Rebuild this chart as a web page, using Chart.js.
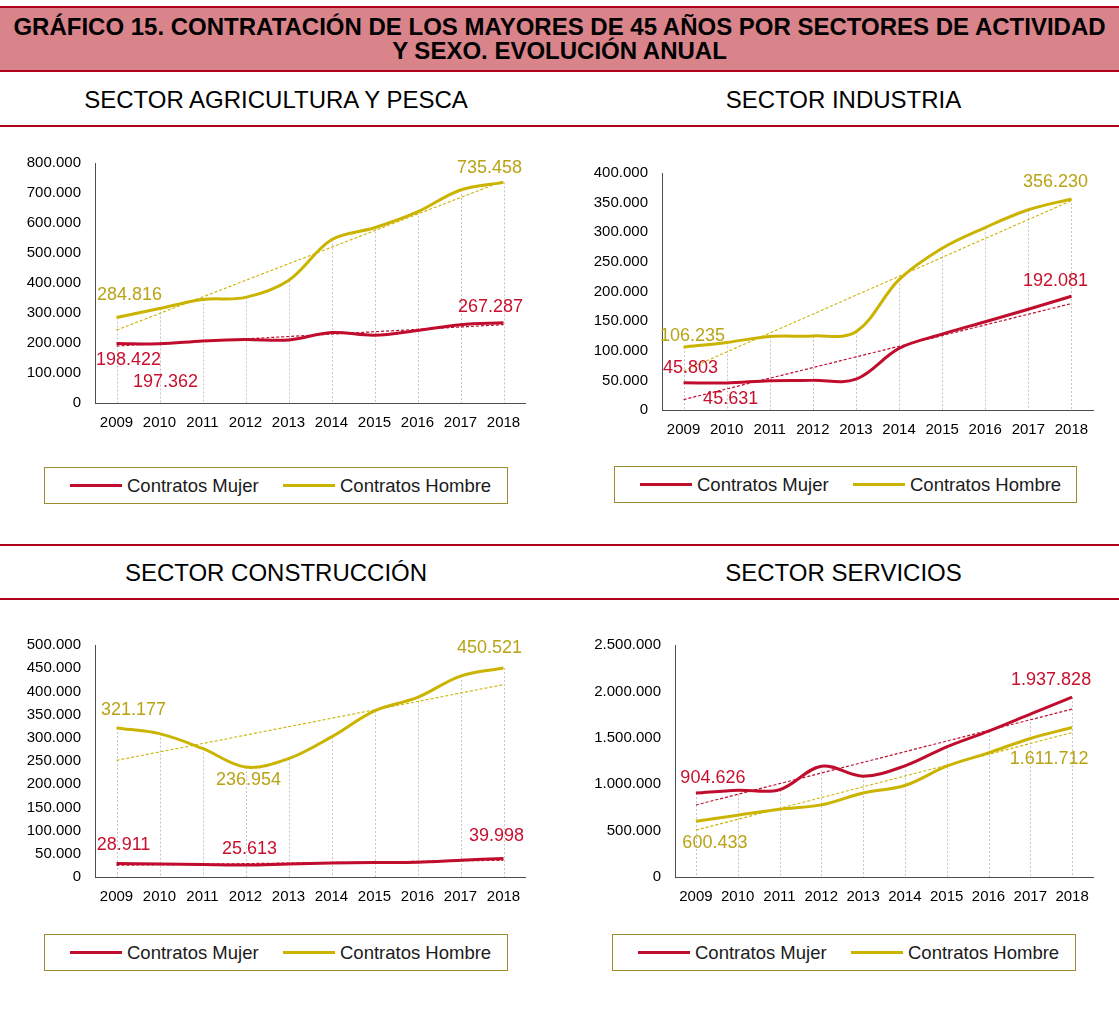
<!DOCTYPE html>
<html><head><meta charset="utf-8">
<script src="https://cdn.jsdelivr.net/npm/chart.js@4.4.1/dist/chart.umd.min.js"></script>
<style>
html,body{margin:0;padding:0;background:#fff;}
body{width:1119px;height:1010px;position:relative;overflow:hidden;font-family:'Liberation Sans',Arial,sans-serif;}
#title{position:absolute;left:0;top:6px;width:1119px;height:62px;background:#d9838b;border-top:2px solid #b3001b;border-bottom:2px solid #b3001b;display:flex;align-items:center;justify-content:center;text-align:center;font-weight:bold;font-size:24px;line-height:24px;color:#000;white-space:nowrap;}
.hline{position:absolute;left:0;width:1119px;height:2px;background:#b3001b;}
.sec{position:absolute;font-size:24px;color:#000;text-align:center;line-height:28px;white-space:nowrap;}
canvas{position:absolute;}
.leg{position:absolute;border:1px solid #a08c30;box-sizing:border-box;background:#fff;}
.li{position:absolute;top:0;height:100%;display:flex;align-items:center;font-size:18.5px;color:#1a1a1a;white-space:nowrap;}
.sw{display:inline-block;width:52px;height:3px;margin-right:5px;}
</style></head>
<body>
<div id="title"><div>GRÁFICO 15. CONTRATACIÓN DE LOS MAYORES DE 45 AÑOS POR SECTORES DE ACTIVIDAD<br>Y SEXO. EVOLUCIÓN ANUAL</div></div>
<div class="sec" style="left:0;width:552px;top:86px;">SECTOR AGRICULTURA Y PESCA</div>
<div class="sec" style="left:566px;width:555px;top:86px;">SECTOR INDUSTRIA</div>
<div class="hline" style="top:125px;"></div>
<div class="hline" style="top:544px;"></div>
<div class="sec" style="left:0;width:552px;top:559px;">SECTOR CONSTRUCCIÓN</div>
<div class="sec" style="left:566px;width:555px;top:559px;">SECTOR SERVICIOS</div>
<div class="hline" style="top:598px;"></div>

<canvas id="c1" width="560" height="300" style="left:0;top:140px;"></canvas>
<canvas id="c2" width="560" height="300" style="left:560px;top:140px;"></canvas>
<canvas id="c3" width="560" height="310" style="left:0;top:600px;"></canvas>
<canvas id="c4" width="560" height="310" style="left:560px;top:600px;"></canvas>

<div class="leg" id="l1" style="left:44px;top:467px;width:464px;height:37px;"></div>
<div class="leg" id="l2" style="left:614px;top:466px;width:463px;height:37px;"></div>
<div class="leg" id="l3" style="left:44px;top:934px;width:464px;height:37px;"></div>
<div class="leg" id="l4" style="left:612px;top:934px;width:464px;height:37px;"></div>

<script>
// ---- DATA ----
const years = ['2009','2010','2011','2012','2013','2014','2015','2016','2017','2018'];
const seriesNames = ['Contratos Mujer','Contratos Hombre'];

const agriMujer  = [198422,197362,207000,212000,210000,235000,226000,242000,261000,267287];
const agriHombre = [284816,315000,345000,352000,408000,544000,584000,637000,710000,735458];
const agriTicks  = [0,100000,200000,300000,400000,500000,600000,700000,800000];

const indMujer   = [45803,45631,49500,50000,52000,104000,128000,149000,170000,192081];
const indHombre  = [106235,114000,124000,125000,132000,220000,273000,308000,338000,356230];
const indTicks   = [0,50000,100000,150000,200000,250000,300000,350000,400000];

const conMujer   = [28911,28000,27000,25613,28000,30000,31000,32000,36000,39998];
const conHombre  = [321177,309000,277000,236954,255000,302000,358000,387000,433000,450521];
const conTicks   = [0,50000,100000,150000,200000,250000,300000,350000,400000,450000,500000];

const serMujer   = [904626,935000,940000,1194000,1087000,1198000,1403000,1572000,1755000,1937828];
const serHombre  = [600433,666000,730000,777000,906000,986000,1194000,1338000,1493000,1611712];
const serTicks   = [0,500000,1000000,1500000,2000000,2500000];

// ---- STYLE ----
const FONT = "'Liberation Sans', Arial, sans-serif";
const RED = '#c00d2d', GOLD = '#cbb400';
const RED_TXT = '#c8102e', GOLD_TXT = '#b9a315';

function fmt(v){ return String(Math.round(v)).replace(/\B(?=(\d{3})+(?!\d))/g,'.'); }

// least-squares linear trend line (as the spreadsheet trendline)
function linTrend(arr){
  const n = arr.length; let sx=0, sy=0, sxy=0, sxx=0;
  arr.forEach((y,i)=>{ sx+=i; sy+=y; sxy+=i*y; sxx+=i*i; });
  const b = (n*sxy - sx*sy)/(n*sxx - sx*sx), a = (sy - b*sx)/n;
  return arr.map((_,i)=>a+b*i);
}

function makeLegend(id){
  const el = document.getElementById(id);
  [[RED,25],[GOLD,238]].forEach((c,k)=>{
    const d = document.createElement('div');
    d.className='li'; d.style.left = c[1]+'px';
    d.innerHTML = '<span class="sw" style="background:'+c[0]+'"></span>'+seriesNames[k];
    el.appendChild(d);
  });
}

function makeChart(id, m, h, ticks, cfg){
  const dropLines = {
    id:'dropLines',
    beforeDatasetsDraw(chart){
      const ctx = chart.ctx, xs = chart.scales.x, ys = chart.scales.y;
      ctx.save();
      ctx.strokeStyle = '#c4c4c4'; ctx.lineWidth = 1; ctx.setLineDash([2,2]);
      years.forEach((_,i)=>{
        const x = Math.round(xs.getPixelForValue(i))+0.5;
        const y = ys.getPixelForValue(Math.max(m[i],h[i]));
        ctx.beginPath(); ctx.moveTo(x,y); ctx.lineTo(x,ys.bottom); ctx.stroke();
      });
      ctx.restore();
    }
  };
  const labelsPlugin = {
    id:'pointLabels',
    afterDatasetsDraw(chart){
      const ctx = chart.ctx;
      ctx.save();
      ctx.font = '18px '+FONT; ctx.textAlign='center'; ctx.textBaseline='middle';
      cfg.labels.forEach(l=>{
        const pt = chart.getDatasetMeta(l.ds).data[l.i];
        const val = chart.data.datasets[l.ds].data[l.i];
        ctx.fillStyle = l.ds===0 ? RED_TXT : GOLD_TXT;
        ctx.fillText(fmt(val), pt.x + l.dx, pt.y + l.dy);
      });
      ctx.restore();
    }
  };
  const axisCommon = {
    grid:{display:true, color:'rgba(0,0,0,0)', drawTicks:false},
    border:{display:true, color:'#4d4d4d', width:1}
  };
  new Chart(document.getElementById(id), {
    type:'line',
    data:{ labels: years, datasets:[
      {label:seriesNames[0], data:m, borderColor:RED, borderWidth:3, tension:0.35, pointRadius:0, fill:false},
      {label:seriesNames[1], data:h, borderColor:GOLD, borderWidth:3, tension:0.35, pointRadius:0, fill:false},
      {label:'Lineal (Contratos Mujer)', data:linTrend(m), borderColor:RED, borderWidth:1.2, borderDash:[3,2], tension:0, pointRadius:0, fill:false},
      {label:'Lineal (Contratos Hombre)', data:linTrend(h), borderColor:GOLD, borderWidth:1.1, borderDash:[3,2], tension:0, pointRadius:0, fill:false}
    ]},
    options:{
      responsive:false, animation:false, devicePixelRatio:1,
      layout:{padding:{left:0, right:cfg.padR, top:cfg.padT, bottom:0}},
      plugins:{legend:{display:false}, tooltip:{enabled:false}},
      scales:{
        x:Object.assign({}, axisCommon, {
          type:'category', offset:true,
          ticks:{color:'#000', font:{family:FONT, size:15}, padding:11, maxRotation:0, autoSkip:false},
          afterFit:s=>{ s.height = cfg.xH; }
        }),
        y:Object.assign({}, axisCommon, {
          min:ticks[0], max:ticks[ticks.length-1],
          ticks:{stepSize:ticks[1]-ticks[0], color:'#000', font:{family:FONT, size:15}, padding:14, callback:v=>fmt(v)},
          afterFit:s=>{ s.width = cfg.yW; }
        })
      }
    },
    plugins:[dropLines, labelsPlugin]
  });
}

makeChart('c1', agriMujer, agriHombre, agriTicks, {
  yW:95, padR:35, padT:22, xH:37,
  labels:[{ds:1,i:0,dx:13,dy:-23},{ds:0,i:0,dx:12,dy:17},{ds:0,i:1,dx:6,dy:38},
          {ds:1,i:9,dx:-14,dy:-14},{ds:0,i:9,dx:-13,dy:-16}]
});
makeChart('c2', indMujer, indHombre, indTicks, {
  yW:102, padR:27, padT:33, xH:30,
  labels:[{ds:1,i:9,dx:-16,dy:-17},{ds:0,i:9,dx:-16,dy:-15},{ds:1,i:0,dx:9,dy:-11},
          {ds:0,i:0,dx:7,dy:-15},{ds:0,i:1,dx:4,dy:16}]
});
makeChart('c3', conMujer, conHombre, conTicks, {
  yW:95, padR:35, padT:45, xH:33,
  labels:[{ds:1,i:0,dx:17,dy:-18},{ds:1,i:3,dx:3,dy:13},{ds:1,i:9,dx:-14,dy:-20},
          {ds:0,i:0,dx:7,dy:-19},{ds:0,i:3,dx:4,dy:-16},{ds:0,i:9,dx:-7,dy:-22}]
});
makeChart('c4', serMujer, serHombre, serTicks, {
  yW:115, padR:27, padT:45, xH:33,
  labels:[{ds:0,i:9,dx:-21,dy:-17},{ds:0,i:0,dx:17,dy:-15},{ds:1,i:0,dx:19,dy:22},
          {ds:1,i:9,dx:-23,dy:32}]
});
['l1','l2','l3','l4'].forEach(makeLegend);
</script>
</body></html>
